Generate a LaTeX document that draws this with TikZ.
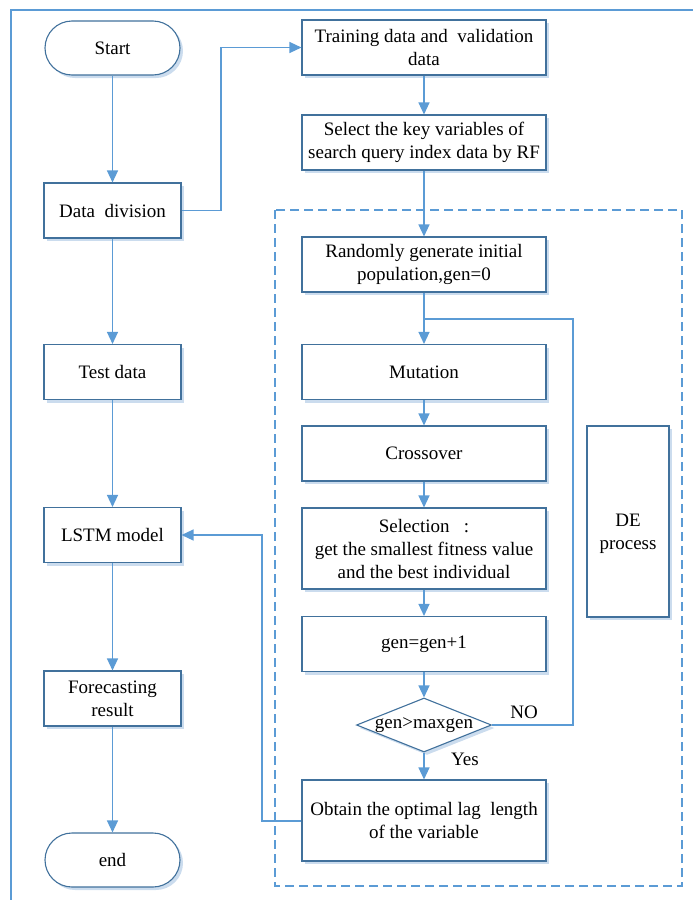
\documentclass[tikz,border=0pt]{standalone}
\usepackage{fontspec}
\setmainfont{Liberation Serif}
\usetikzlibrary{arrows.meta,shapes.geometric,shadows}
\definecolor{boxc}{HTML}{41719C}
\definecolor{arrc}{HTML}{5B9BD5}
\definecolor{shc}{HTML}{A8C4E2}
\begin{document}
\begin{tikzpicture}[x=1pt,y=-1pt,
  txt/.style={font=\rmfamily\fontsize{19}{23}\selectfont, text=black},
  boxbase/.style={txt, draw=boxc, line width=1.1pt, fill=white, align=center, inner sep=0pt,
    drop shadow={shadow xshift=3pt, shadow yshift=-3pt, fill=shc, opacity=0.6}},
  pbox/.style={boxbase, rectangle, minimum width=137pt, minimum height=55pt},
  wbox/.style={boxbase, rectangle, minimum width=244pt, minimum height=55pt},
  term/.style={boxbase, rectangle, rounded corners=27pt, minimum width=135pt, minimum height=54pt},
  arr/.style={draw=arrc, line width=1.3pt, -{Triangle[length=12pt,width=11pt]}},
  ln/.style={draw=arrc, line width=1.3pt}]
\useasboundingbox (0,0) rectangle (693,900);
\begin{scope}
\clip (0,0) rectangle (693,900);
\draw[arrc, line width=2pt] (11,905) -- (11,10) -- (700,10);
\end{scope}
% dashed DE region
\draw[arrc, line width=1.2pt, dash pattern=on 9pt off 5pt] (275,210) rectangle (682,886);

% left column
\node[term] (start) at (112.5,48) {Start};
\node[pbox] (div) at (112.5,210.5) {Data\ \ division};
\node[pbox] (test) at (112.5,372) {Test data};
\node[pbox] (lstm) at (112.5,535) {LSTM model};
\node[pbox] (fore) at (112.5,698.5) {Forecasting\\result};
\node[term] (endn) at (112.5,860) {end};

% right column
\node[wbox] (train) at (424,47.5) {Training data and\ \ validation\\data};
\node[wbox] (select) at (424,142.5) {Select the key variables of\\search query index data by RF};
\node[wbox] (rand) at (424,264.5) {Randomly generate initial\\population,gen=0};
\node[wbox] (mut) at (424,372) {Mutation};
\node[wbox] (cross) at (424,453.5) {Crossover};
\node[wbox, minimum height=81pt] (sel) at (424,548.5) {Selection\ \ \ :\\get the smallest fitness value\\and the best individual};
\node[wbox] (gen) at (424,644) {gen=gen+1};
\node[boxbase, diamond, minimum width=135pt, minimum height=54pt] (dia) at (424,725) {};
\node[txt] (diat) at (dia.center) {gen>maxgen};
\node[wbox, minimum height=81pt] (obt) at (424,820.5) {Obtain the optimal lag\ \ length\\of the variable};
\node[boxbase, rectangle, minimum width=82pt, minimum height=191pt] (de) at (628,521.5) {};
\node[txt, align=center] (det) at (628,533.5) {DE\\process};

\node[txt] (no) at (524,712) {NO};
\node[txt] (yes) at (465,759) {Yes};

% connectors
\draw[arr] (start) -- (div);
\draw[arr] (div) -- (test);
\draw[arr] (test) -- (lstm);
\draw[arr] (lstm) -- (fore);
\draw[arr] (fore) -- (endn);
\coordinate (k1) at (221,210.5);
\draw[arr] (div.east) -- (k1) |- (train.west);
\draw[arr] (train) -- (select);
\draw[arr] (select) -- (rand);
\coordinate (j) at (424,319);
\coordinate (lr) at (573,319);
\draw[arr] (rand) -- (mut);
\draw[arr] (mut) -- (cross);
\draw[arr] (cross) -- (sel);
\draw[arr] (sel) -- (gen);
\draw[arr] (gen) -- (dia);
\draw[arr] (dia) -- (obt);
\draw[ln] (dia.east) -| (lr) -- (j);
\coordinate (k2) at (262,821);
\draw[arr] (obt.west |- k2) -- (k2) |- (lstm.east);
\end{tikzpicture}
\end{document}
